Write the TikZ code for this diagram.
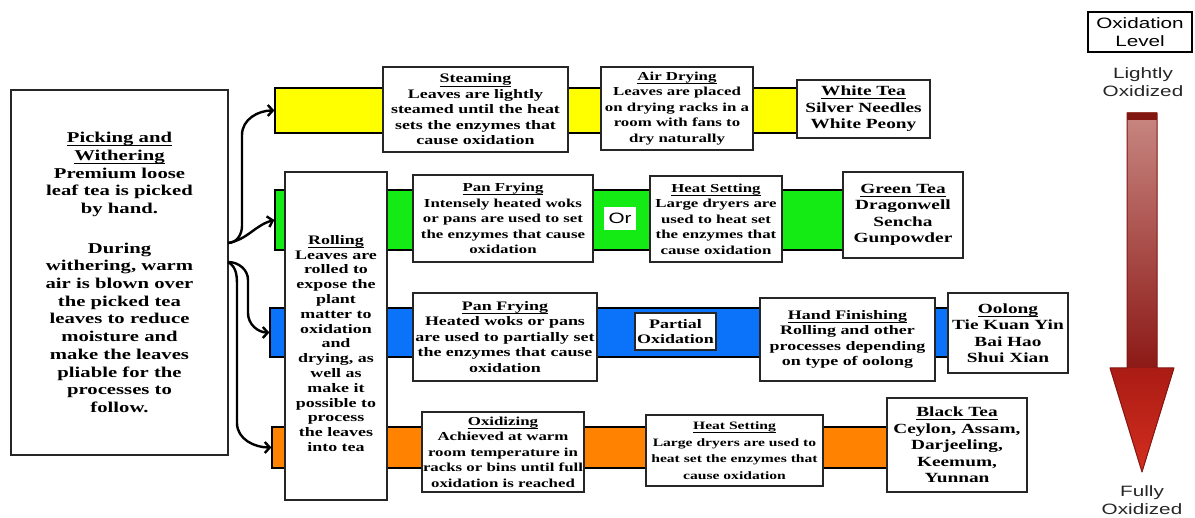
\documentclass[tikz,border=0pt]{standalone}
\usepackage{fontspec}
\setmainfont{Liberation Serif}[FakeStretch=1.38]
\setsansfont{Liberation Sans}[FakeStretch=1.38]
\usetikzlibrary{arrows.meta}

\definecolor{bandyellow}{RGB}{255,255,0}
\definecolor{bandgreen}{RGB}{20,235,20}
\definecolor{bandblue}{RGB}{10,115,250}
\definecolor{bandorange}{RGB}{255,130,0}
\definecolor{shafttop}{RGB}{200,135,130}
\definecolor{shaftlow}{RGB}{140,25,22}
\definecolor{headtop}{RGB}{170,28,20}
\definecolor{headlow}{RGB}{212,45,30}
\definecolor{arrowrim}{RGB}{130,22,16}

\newcommand{\stepfnt}{\fontsize{13}{15.5}\selectfont\bfseries}
\newcommand{\smallstepfnt}{\fontsize{12.2}{15.5}\selectfont\bfseries}
\newcommand{\pickfnt}{\fontsize{15}{17.7}\selectfont\bfseries}
\newcommand{\rollfnt}{\fontsize{13}{14.8}\selectfont\bfseries}
\newcommand{\teafnt}{\fontsize{14}{16.5}\selectfont\bfseries}
\newcommand{\sidefnt}{\fontsize{15}{18}\selectfont\sffamily}
% underlined title with a visible rule
\newcommand{\stepttl}[1]{\setbox0=\hbox{#1}\rlap{\rule[-3.4pt]{\wd0}{0.8pt}}\box0}

\tikzset{
  band/.style={rectangle, draw=black, line width=1.2pt, inner sep=0pt},
  stepbox/.style={rectangle, draw=black!85, line width=1.5pt, fill=white, align=center, inner sep=1pt, font=\stepfnt},
  teabox/.style={stepbox, font=\teafnt},
  flow/.style={line width=2.4pt, -{Straight Barb[length=5pt,width=11pt]}}
}

\begin{document}
\begin{tikzpicture}[x=1pt, y=1pt]
  \useasboundingbox (0,0) rectangle (1195,518);

  % colour bands, one for each kind of tea
  \node[band, fill=bandyellow, minimum width=525, minimum height=45] (whiteband) at (537.5,407.5) {};
  \node[band, fill=bandgreen, minimum width=570, minimum height=60] (greenband) at (560,298) {};
  \node[band, fill=bandblue, minimum width=680, minimum height=49] (oolongband) at (610,185.5) {};
  \node[band, fill=bandorange, minimum width=618, minimum height=41] (blackband) at (581,70.5) {};

  % first steps
  \node[stepbox, font=\pickfnt, minimum width=217, minimum height=365] (picking) at (119.5,245.5) {\stepttl{Picking and}\\\stepttl{Withering}\\Premium loose\\leaf tea is picked\\by hand.\\[22pt]During\\withering, warm\\air is blown over\\the picked tea\\leaves to reduce\\moisture and\\make the leaves\\pliable for the\\processes to\\follow.};
  \node[stepbox, font=\rollfnt, minimum width=102, minimum height=328] (rolling) at (336,182) {\rule{0pt}{24pt}\stepttl{Rolling}\\Leaves are\\rolled to\\expose the\\plant\\matter to\\oxidation\\and\\drying, as\\well as\\make it\\possible to\\process\\the leaves\\into tea};

  \coordinate (forkup) at (228,275);
  \coordinate (forkdown) at (228,256);
  \draw[flow] (forkup) to[out=0,in=-90] (242,292) -- (242,383) to[out=90,in=180] (whiteband.west);
  \draw[flow] (forkup) to[out=10,in=195] (greenband.west);
  \draw[flow] (forkdown) to[out=0,in=90] (248,238) -- (248,205) to[out=-90,in=180] (oolongband.west);
  \draw[flow] (forkdown) to[out=-30,in=90] (237,230) -- (237,95) to[out=-90,in=180] (blackband.west);

  % white tea
  \node[stepbox, minimum width=185, minimum height=85] (steaming) at (475.5,408.5) {\stepttl{Steaming}\\Leaves are lightly\\steamed until the heat\\sets the enzymes that\\cause oxidation};
  \node[stepbox, font=\smallstepfnt, minimum width=152, minimum height=83] (airdrying) at (677,409.5) {\stepttl{Air Drying}\\Leaves are placed\\on drying racks in a\\room with fans to\\dry naturally};
  \node[teabox, minimum width=133, minimum height=58] (whitetea) at (863.5,409) {\stepttl{White Tea}\\Silver Needles\\White Peony};

  % green tea
  \node[stepbox, font=\smallstepfnt, minimum width=180, minimum height=87] (panfrying) at (503,299.5) {\stepttl{Pan Frying}\\Intensely heated woks\\or pans are used to set\\the enzymes that cause\\oxidation};
  \node[rectangle, fill=white, inner sep=0pt, minimum width=32, minimum height=23, font=\sidefnt] (orbox) at (620,299.5) {Or};
  \node[stepbox, font=\smallstepfnt, minimum width=132, minimum height=86] (heatsetting) at (716,299) {\stepttl{Heat Setting}\\Large dryers are\\used to heat set\\the enzymes that\\cause oxidation};
  \node[teabox, minimum width=120, minimum height=86] (greentea) at (903,303) {\stepttl{Green Tea}\\Dragonwell\\Sencha\\Gunpowder};

  % oolong
  \node[stepbox, minimum width=184, minimum height=88] (panpartial) at (505,181) {\stepttl{Pan Frying}\\Heated woks or pans\\are used to partially set\\the enzymes that cause\\oxidation};
  \node[stepbox, minimum width=81, minimum height=37] (partial) at (675.5,186.5) {Partial\\Oxidation};
  \node[stepbox, minimum width=175, minimum height=83] (handfinish) at (847.5,178.5) {\stepttl{Hand Finishing}\\Rolling and other\\processes depending\\on type of oolong};
  \node[teabox, minimum width=120, minimum height=80] (oolong) at (1008,185) {\stepttl{Oolong}\\Tie Kuan Yin\\Bai Hao\\Shui Xian};

  % black tea
  \node[stepbox, font=\smallstepfnt, minimum width=162, minimum height=80] (oxidizing) at (503,66) {\stepttl{Oxidizing}\\Achieved at warm\\room temperature in\\racks or bins until full\\oxidation is reached};
  \node[stepbox, font=\fontsize{11.3}{16.5}\selectfont\bfseries, minimum width=177, minimum height=71] (heatfull) at (734.5,67.5) {\stepttl{Heat Setting}\\Large dryers are used to\\heat set the enzymes that\\cause oxidation};
  \node[teabox, minimum width=140, minimum height=94] (blacktea) at (957,73) {\stepttl{Black Tea}\\Ceylon, Assam,\\Darjeeling,\\Keemum,\\Yunnan};

  % oxidation scale
  \node[rectangle, draw=black, line width=1.5pt, align=center, inner sep=1pt, minimum width=104, minimum height=40, font=\sidefnt] (levelbox) at (1140,486) {Oxidation\\Level};
  \node[align=center, text=black!85, font=\sidefnt] (lightly) at (1143,436) {Lightly\\Oxidized};
  \node[align=center, text=black!85, font=\sidefnt] (fully) at (1142,18) {Fully\\Oxidized};
  \shade[top color=shafttop, bottom color=shaftlow] (1127,150) rectangle (1157,405);
  \shade[top color=headtop, bottom color=headlow] (1110,150) -- (1174,150) -- (1142,46) -- cycle;
  \draw[arrowrim, line width=1pt, line join=round]
    (1127,405) -- (1157,405) -- (1157,150) -- (1174,150) -- (1142,46) -- (1110,150) -- (1127,150) -- cycle;
  \fill[arrowrim] (1127,398) rectangle (1157,405);
\end{tikzpicture}
\end{document}
